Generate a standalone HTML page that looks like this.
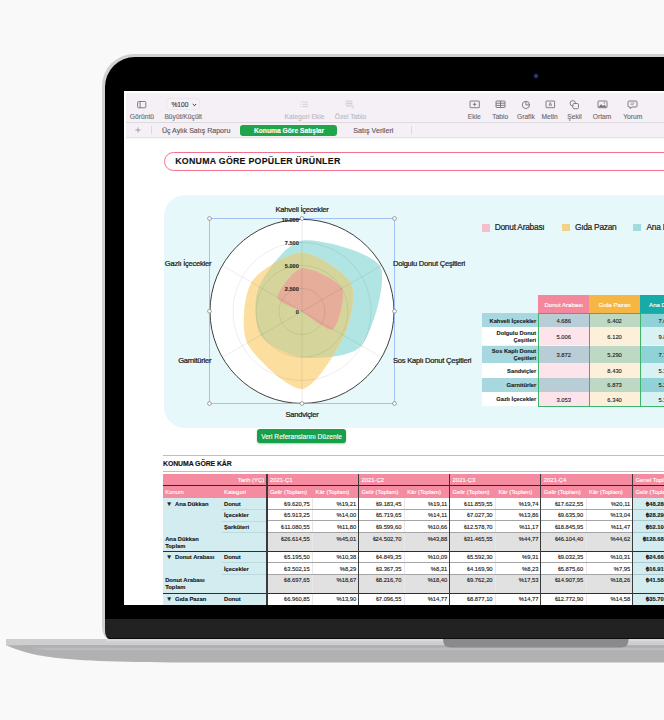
<!DOCTYPE html><html><head><meta charset="utf-8"><style>
*{margin:0;padding:0;box-sizing:border-box}
html,body{width:664px;height:720px;overflow:hidden;background:#f9f9f9;font-family:"Liberation Sans",sans-serif}
.a{position:absolute}
.t{position:absolute;white-space:nowrap;line-height:1;-webkit-text-stroke:0.12px currentColor}
.s2{-webkit-text-stroke:0.22px currentColor}
.lid{left:101.8px;top:54px;width:700px;height:585px;background:#d0d1d3;border-radius:32px 0 0 0;border-bottom-left-radius:7px 13px}
.bez{left:104.9px;top:56.5px;width:700px;height:562px;background:#000;border-radius:30px 0 0 0}
.chin{left:105px;top:618.6px;width:700px;height:20.4px;background:#222223;border-bottom-left-radius:4px 10px;border-bottom:1px solid #0c0c0c}
.cam{left:533.5px;top:73.9px;width:4px;height:4px;border-radius:50%;background:radial-gradient(circle,#3e4a96 0,#2e3878 50%,#151a40 100%);box-shadow:0 0 1.5px 1px #0a0c1c}
.screen{left:124.2px;top:91.2px;width:600px;height:514px;background:#fff;overflow:hidden}
.in{left:-124.2px;top:-91.2px;width:800px;height:720px}
</style></head><body>
<div class="a lid"></div><div class="a bez"></div><div class="a chin"></div><div class="a cam"></div>
<svg class="a" style="left:6px;top:639px" width="700" height="24" viewBox="0 0 700 24">
  <path d="M0 0 H700 V23.5 H180 C35 23.5 22.5 15 0 6.3 Z" fill="#b1b1b3"/>
  <rect x="0" y="0" width="700" height="6.3" fill="#cececf"/>
  <rect x="100" y="0" width="600" height="2.4" fill="#dadadb"/>
  <path d="M14 6.3 H700 V8.7 H24 Z" fill="#afafb1"/>
  <path d="M24 8.7 H700 V11 H40 Z" fill="#bcbcbe"/>
  <path d="M437 0 H622.6 V0.5 Q622.6 8.6 614.6 8.6 H445 Q437 8.6 437 0.5 Z" fill="#8a8a8c"/>
</svg>
<div class="a screen"><div class="a in">
<div class="a" style="left:126px;top:92.8px;width:560px;height:29.8px;background:#f4f0f6;border-bottom:0.8px solid #dedae0"></div>
<div class="a" style="left:126px;top:122.6px;width:560px;height:15.6px;background:#f4f0f6;border-bottom:0.8px solid #e6e2e8;box-shadow:0 0.6px 1.2px rgba(0,0,0,0.05)"></div>
<svg class="a" style="left:136px;top:100px" width="12" height="10" viewBox="0 0 12 10"><rect x="1.6" y="1.5" width="8.2" height="6.3" rx="0.9" stroke="#747177" fill="none" stroke-width="0.9"/><line x1="4.1" y1="1.5" x2="4.1" y2="7.8" stroke="#747177" fill="none" stroke-width="0.9"/><line x1="2.3" y1="3.2" x2="3.5" y2="3.2" stroke="#a9a5ac" stroke-width="0.6"/></svg>
<div class="t" style="left:-8.10px;width:300px;text-align:center;top:114px;font-size:6.7px;color:#6e6b70">Görüntü</div>
<div class="a" style="left:165.7px;top:98.2px;width:34.5px;height:12px;border-radius:3px;background:#f5f1f7;border:0.7px solid #ebe7ed"></div>
<div class="t" style="left:171.40px;top:102px;font-size:6.7px;color:#3a3a3a">%100</div>
<svg class="a" style="left:192px;top:103.3px" width="5" height="4" viewBox="0 0 5 4"><path d="M0.8 1 L2.5 2.7 L4.2 1" stroke="#333" fill="none" stroke-width="1"/></svg>
<div class="t" style="left:33.20px;width:300px;text-align:center;top:114px;font-size:6.7px;color:#6e6b70">Büyüt/Küçült</div>
<svg class="a" style="left:299px;top:100px" width="11" height="8" viewBox="0 0 11 8"><g stroke="#c3bfc6" fill="none" stroke-width="0.65"><line x1="3.3" y1="2" x2="9" y2="2"/><line x1="3.3" y1="4.3" x2="9" y2="4.3"/><line x1="3.3" y1="6.6" x2="9" y2="6.6"/><line x1="1.2" y1="2" x2="2" y2="2"/><line x1="1.2" y1="4.3" x2="2" y2="4.3"/><line x1="1.2" y1="6.6" x2="2" y2="6.6"/></g></svg>
<div class="t" style="left:154.50px;width:300px;text-align:center;top:114px;font-size:6.7px;color:#bdb9c0">Kategori Ekle</div>
<svg class="a" style="left:345px;top:99.5px" width="10" height="9" viewBox="0 0 10 9"><g stroke="#c3bfc6" fill="none" stroke-width="0.65"><rect x="1.2" y="1" width="5.6" height="5.2" rx="0.6"/><line x1="4" y1="1" x2="4" y2="6.2"/><line x1="1.2" y1="3.6" x2="6.8" y2="3.6"/><path d="M8.2 5.6 L8.2 7.6 L6.8 7.6"/></g></svg>
<div class="t" style="left:200.50px;width:300px;text-align:center;top:114px;font-size:6.7px;color:#bdb9c0">Özel Tablo</div>
<svg class="a" style="left:468.5px;top:100.3px" width="12" height="9" viewBox="0 0 12 9"><g stroke="#747177" fill="none" stroke-width="0.9"><rect x="1" y="1" width="9.3" height="6.7" rx="0.4"/><line x1="5.65" y1="2.6" x2="5.65" y2="6.1"/><line x1="3.9" y1="4.35" x2="7.4" y2="4.35"/></g></svg>
<div class="t" style="left:324.30px;width:300px;text-align:center;top:114px;font-size:6.7px;color:#6e6b70">Ekle</div>
<svg class="a" style="left:495px;top:100.3px" width="11" height="9" viewBox="0 0 11 9"><g stroke="#747177" fill="none" stroke-width="0.9"><rect x="1" y="1" width="9" height="6.5" rx="0.5"/><line x1="1" y1="3.2" x2="10" y2="3.2"/><line x1="1" y1="5.35" x2="10" y2="5.35"/><line x1="5.5" y1="1" x2="5.5" y2="7.5"/></g></svg>
<div class="t" style="left:350.30px;width:300px;text-align:center;top:114px;font-size:6.7px;color:#6e6b70">Tablo</div>
<svg class="a" style="left:521px;top:99.5px" width="10" height="10" viewBox="0 0 10 10"><g stroke="#747177" fill="none" stroke-width="0.9"><circle cx="4.9" cy="4.9" r="3.6"/><path d="M4.9 4.9 L4.9 1.3 M4.9 4.9 L8.5 4.9"/></g></svg>
<div class="t" style="left:375.90px;width:300px;text-align:center;top:114px;font-size:6.7px;color:#6e6b70">Grafik</div>
<svg class="a" style="left:544.5px;top:100.3px" width="11" height="9" viewBox="0 0 11 9"><g stroke="#747177" fill="none" stroke-width="0.9"><rect x="1" y="1" width="8.6" height="6.7" rx="0.4"/><path d="M3.9 6.1 L5.3 2.3 L6.7 6.1 M4.4 4.9 L6.2 4.9" stroke-width="0.7"/></g></svg>
<div class="t" style="left:399.60px;width:300px;text-align:center;top:114px;font-size:6.7px;color:#6e6b70">Metin</div>
<svg class="a" style="left:569px;top:99.5px" width="11" height="10" viewBox="0 0 11 10"><g stroke="#747177" fill="none" stroke-width="0.9"><circle cx="3.8" cy="3.3" r="2.7"/><rect x="3.9" y="3.5" width="5.6" height="5.2" rx="1.2" fill="#f4f0f6"/></g></svg>
<div class="t" style="left:424.60px;width:300px;text-align:center;top:114px;font-size:6.7px;color:#6e6b70">Şekil</div>
<svg class="a" style="left:597px;top:100.3px" width="11" height="9" viewBox="0 0 11 9"><rect x="1" y="1" width="9" height="6.7" rx="0.6" stroke="#747177" fill="none" stroke-width="0.9"/><path d="M1.4 7.3 L4 4.2 L6 6 L7.4 4.8 L9.6 7.3 Z" fill="#76727a"/><circle cx="7.4" cy="2.9" r="0.7" fill="#76727a"/></svg>
<div class="t" style="left:452.00px;width:300px;text-align:center;top:114px;font-size:6.7px;color:#6e6b70">Ortam</div>
<svg class="a" style="left:627px;top:100px" width="11" height="10" viewBox="0 0 11 10"><g stroke="#747177" fill="none" stroke-width="0.9"><path d="M2 1 H9 Q10 1 10 2 V6 Q10 7 9 7 H5 L3.2 8.6 V7 H2 Q1 7 1 6 V2 Q1 1 2 1 Z"/><line x1="3.5" y1="3" x2="7.5" y2="3" stroke-width="0.6"/><line x1="3.5" y1="4.7" x2="6.5" y2="4.7" stroke-width="0.6"/></g></svg>
<div class="t" style="left:482.80px;width:300px;text-align:center;top:114px;font-size:6.7px;color:#6e6b70">Yorum</div>
<svg class="a" style="left:135px;top:127px" width="6" height="6" viewBox="0 0 6 6"><path d="M3 0.4 V5.6 M0.4 3 H5.6" stroke="#8d8990" stroke-width="0.75"/></svg>
<div class="a" style="left:151.2px;top:126.3px;width:0.8px;height:7.7px;background:#dcd8de"></div>
<div class="t" style="left:161.90px;top:127px;font-size:7.05px;color:#5a565d">Üç Aylık Satış Raporu</div>
<div class="a" style="left:240.3px;top:125.1px;width:96.8px;height:11.2px;border-radius:3px;background:#1fa64b"></div>
<div class="t" style="left:253.90px;top:128px;font-size:6.7px;color:#fff;font-weight:bold">Konuma Göre Satışlar</div>
<div class="t" style="left:353.30px;top:128px;font-size:7.15px;color:#5a565d">Satış Verileri</div>
<div class="a" style="left:410.8px;top:126.3px;width:0.8px;height:7.7px;background:#dcd8de"></div>
<div class="a" style="left:164.1px;top:151.9px;width:560px;height:19.3px;border-radius:9.6px;border:1.7px solid #f2738d;background:#fff"></div>
<div class="t" style="left:175.20px;top:157px;font-size:8.8px;letter-spacing:0.27px;font-weight:bold;color:#111">KONUMA GÖRE POPÜLER ÜRÜNLER</div>
<div class="a" style="left:164.2px;top:195px;width:560px;height:233.3px;border-radius:21px;background:#e6f8f9"></div>
<svg class="a" style="left:0;top:0" width="700" height="720" viewBox="0 0 700 720"><defs><clipPath id="ct"><path d="M302.00 240.56 C318.15 237.86 372.17 252.31 380.08 266.32 C388.00 280.33 371.77 333.53 361.36 345.67 C350.95 357.81 315.44 358.78 302.00 357.40 C288.56 356.02 266.31 344.77 260.57 335.32 C254.83 325.87 253.45 299.19 258.98 286.56 C264.50 273.93 285.85 243.26 302.00 240.56Z"/></clipPath></defs><circle cx="302.0" cy="311.4" r="92.0" fill="#fff"/><path d="M302.00 240.56 C318.15 237.86 372.17 252.31 380.08 266.32 C388.00 280.33 371.77 333.53 361.36 345.67 C350.95 357.81 315.44 358.78 302.00 357.40 C288.56 356.02 266.31 344.77 260.57 335.32 C254.83 325.87 253.45 299.19 258.98 286.56 C264.50 273.93 285.85 243.26 302.00 240.56Z" fill="#b1e5e3"/><path d="M302.00 252.50 C315.24 252.64 345.14 272.15 350.76 283.25 C356.38 294.35 350.65 321.64 344.15 335.73 C337.65 349.83 314.92 387.99 302.00 388.96 C289.08 389.93 253.97 357.25 247.24 343.02 C240.50 328.79 244.19 294.30 251.49 282.24 C258.79 270.17 288.76 252.37 302.00 252.50Z" fill="#fcde9f"/><path d="M302.00 252.50 C315.24 252.64 345.14 272.15 350.76 283.25 C356.38 294.35 350.65 321.64 344.15 335.73 C337.65 349.83 314.92 387.99 302.00 388.96 C289.08 389.93 253.97 357.25 247.24 343.02 C240.50 328.79 244.19 294.30 251.49 282.24 C258.79 270.17 288.76 252.37 302.00 252.50Z" fill="#d5d59b" clip-path="url(#ct)"/><path d="M302.00 268.29 C310.56 267.09 337.77 280.25 341.88 288.37 C346.00 296.50 338.17 326.14 332.85 329.21 C327.53 332.28 306.11 313.77 302.00 311.40 C297.89 309.03 305.24 313.27 302.00 311.40 C298.76 309.53 277.68 303.10 277.68 297.36 C277.68 291.61 293.44 269.49 302.00 268.29Z" fill="#e5ad9a"/><circle cx="302.0" cy="311.4" r="23" fill="none" stroke="rgba(0,0,0,0.13)" stroke-width="0.6"/><circle cx="302.0" cy="311.4" r="46" fill="none" stroke="rgba(0,0,0,0.13)" stroke-width="0.6"/><circle cx="302.0" cy="311.4" r="69" fill="none" stroke="rgba(0,0,0,0.13)" stroke-width="0.6"/><line x1="302.0" y1="311.4" x2="302.00" y2="219.40" stroke="rgba(0,0,0,0.13)" stroke-width="0.6"/><line x1="302.0" y1="311.4" x2="381.67" y2="265.40" stroke="rgba(0,0,0,0.13)" stroke-width="0.6"/><line x1="302.0" y1="311.4" x2="381.67" y2="357.40" stroke="rgba(0,0,0,0.13)" stroke-width="0.6"/><line x1="302.0" y1="311.4" x2="302.00" y2="403.40" stroke="rgba(0,0,0,0.13)" stroke-width="0.6"/><line x1="302.0" y1="311.4" x2="222.33" y2="357.40" stroke="rgba(0,0,0,0.13)" stroke-width="0.6"/><line x1="302.0" y1="311.4" x2="222.33" y2="265.40" stroke="rgba(0,0,0,0.13)" stroke-width="0.6"/><circle cx="302.0" cy="311.4" r="92.0" fill="none" stroke="#2a2a2a" stroke-width="0.9"/><rect x="209.5" y="218.5" width="185.0" height="185.0" fill="none" stroke="#8eaef5" stroke-width="0.75"/><circle cx="209.5" cy="218.5" r="1.9" fill="#fff" stroke="#7a7a7a" stroke-width="0.7"/><circle cx="209.5" cy="311.2" r="1.9" fill="#fff" stroke="#7a7a7a" stroke-width="0.7"/><circle cx="209.5" cy="403.5" r="1.9" fill="#fff" stroke="#7a7a7a" stroke-width="0.7"/><circle cx="302.0" cy="218.5" r="1.9" fill="#fff" stroke="#7a7a7a" stroke-width="0.7"/><circle cx="302.0" cy="403.5" r="1.9" fill="#fff" stroke="#7a7a7a" stroke-width="0.7"/><circle cx="394.5" cy="218.5" r="1.9" fill="#fff" stroke="#7a7a7a" stroke-width="0.7"/><circle cx="394.5" cy="311.2" r="1.9" fill="#fff" stroke="#7a7a7a" stroke-width="0.7"/><circle cx="394.5" cy="403.5" r="1.9" fill="#fff" stroke="#7a7a7a" stroke-width="0.7"/></svg>
<div class="t" style="left:-1.20px;width:300px;text-align:right;top:218px;font-size:5.6px;font-weight:bold;color:#2a2a2a">10.000</div>
<div class="t" style="left:-1.20px;width:300px;text-align:right;top:241px;font-size:5.6px;font-weight:bold;color:#2a2a2a">7.500</div>
<div class="t" style="left:-1.20px;width:300px;text-align:right;top:264px;font-size:5.6px;font-weight:bold;color:#2a2a2a">5.000</div>
<div class="t" style="left:-1.20px;width:300px;text-align:right;top:287px;font-size:5.6px;font-weight:bold;color:#2a2a2a">2.500</div>
<div class="t" style="left:-1.20px;width:300px;text-align:right;top:310px;font-size:5.6px;font-weight:bold;color:#2a2a2a">0</div>
<div class="t" style="left:152.00px;width:300px;text-align:center;top:206px;font-size:7.6px;letter-spacing:-0.25px;color:#1a1a1a;-webkit-text-stroke:0.22px #1a1a1a">Kahveli İçecekler</div>
<div class="t" style="left:393.00px;top:260px;font-size:7.6px;letter-spacing:-0.25px;color:#1a1a1a;-webkit-text-stroke:0.22px #1a1a1a">Dolgulu Donut Çeşitleri</div>
<div class="t" style="left:393.00px;top:357px;font-size:7.6px;letter-spacing:-0.25px;color:#1a1a1a;-webkit-text-stroke:0.22px #1a1a1a">Sos Kaplı Donut Çeşitleri</div>
<div class="t" style="left:152.00px;width:300px;text-align:center;top:411px;font-size:7.6px;letter-spacing:-0.25px;color:#1a1a1a;-webkit-text-stroke:0.22px #1a1a1a">Sandviçler</div>
<div class="t" style="left:-88.70px;width:300px;text-align:right;top:357px;font-size:7.6px;letter-spacing:-0.25px;color:#1a1a1a;-webkit-text-stroke:0.22px #1a1a1a">Garnitürler</div>
<div class="t" style="left:-88.70px;width:300px;text-align:right;top:260px;font-size:7.6px;letter-spacing:-0.25px;color:#1a1a1a;-webkit-text-stroke:0.22px #1a1a1a">Gazlı İçecekler</div>
<div class="a" style="left:482px;top:223.9px;width:7.8px;height:7.7px;background:#f3bfcb"></div>
<div class="t" style="left:494.70px;top:223px;font-size:8.4px;letter-spacing:-0.26px;color:#222;-webkit-text-stroke:0.2px #222">Donut Arabası</div>
<div class="a" style="left:562.3px;top:223.9px;width:7.5px;height:7.5px;background:#f0d28b"></div>
<div class="t" style="left:574.90px;top:223px;font-size:8.4px;letter-spacing:-0.26px;color:#222;-webkit-text-stroke:0.2px #222">Gıda Pazan</div>
<div class="a" style="left:633.1px;top:223.9px;width:7.6px;height:7.5px;background:#9fdcdc"></div>
<div class="t" style="left:646.50px;top:223px;font-size:8.4px;letter-spacing:-0.26px;color:#222;-webkit-text-stroke:0.2px #222">Ana Dükkan</div>
<div class="a" style="left:538.3px;top:294.8px;width:50.8px;height:18px;background:#f5879c"></div>
<div class="a" style="left:589.1px;top:294.8px;width:51.1px;height:18px;background:#f6b645"></div>
<div class="a" style="left:640.2px;top:294.8px;width:51px;height:18px;background:#17aaa6"></div>
<div class="t" style="left:413.70px;width:300px;text-align:center;top:302px;font-size:6.1px;color:#fff">Donut Arabası</div>
<div class="t" style="left:464.60px;width:300px;text-align:center;top:302px;font-size:6.1px;color:#fff">Gıda Pazan</div>
<div class="t" style="left:515.70px;width:300px;text-align:center;top:302px;font-size:6.1px;color:#fff">Ana Dükkan</div>
<div class="a" style="left:481.6px;top:313.3px;width:56.7px;height:13.80px;background:#a7d8df"></div>
<div class="a" style="left:538.3px;top:313.3px;width:50.8px;height:13.80px;background:#b8cdd6"></div>
<div class="a" style="left:589.1px;top:313.3px;width:51.1px;height:13.80px;background:#bdd8c3"></div>
<div class="a" style="left:640.2px;top:313.3px;width:51px;height:13.80px;background:#8fd3d6"></div>
<div class="t" style="left:236.20px;width:300px;text-align:right;top:319px;font-size:5.75px;font-weight:bold;color:#1a1a1a">Kahveli İçecekler</div>
<div class="t" style="left:413.70px;width:300px;text-align:center;top:319px;font-size:5.8px;color:#1e1e1e">4.686</div>
<div class="t" style="left:464.60px;width:300px;text-align:center;top:319px;font-size:5.8px;color:#1e1e1e">6.402</div>
<div class="t" style="left:515.70px;width:300px;text-align:center;top:319px;font-size:5.8px;color:#1e1e1e">7.695</div>
<div class="a" style="left:481.6px;top:327.1px;width:56.7px;height:18.40px;background:#fff"></div>
<div class="a" style="left:538.3px;top:327.1px;width:50.8px;height:18.40px;background:#fde4eb"></div>
<div class="a" style="left:589.1px;top:327.1px;width:51.1px;height:18.40px;background:#fdf0da"></div>
<div class="a" style="left:640.2px;top:327.1px;width:51px;height:18.40px;background:#d8f1f2"></div>
<div class="t" style="left:236.20px;width:300px;text-align:right;top:330px;font-size:5.75px;line-height:6.8px;font-weight:bold;color:#1a1a1a">Dolgulu Donut<br>Çeşitleri</div>
<div class="t" style="left:413.70px;width:300px;text-align:center;top:335px;font-size:5.8px;color:#1e1e1e">5.006</div>
<div class="t" style="left:464.60px;width:300px;text-align:center;top:335px;font-size:5.8px;color:#1e1e1e">6.120</div>
<div class="t" style="left:515.70px;width:300px;text-align:center;top:335px;font-size:5.8px;color:#1e1e1e">9.812</div>
<div class="a" style="left:481.6px;top:345.5px;width:56.7px;height:17.90px;background:#a7d8df"></div>
<div class="a" style="left:538.3px;top:345.5px;width:50.8px;height:17.90px;background:#b8cdd6"></div>
<div class="a" style="left:589.1px;top:345.5px;width:51.1px;height:17.90px;background:#bdd8c3"></div>
<div class="a" style="left:640.2px;top:345.5px;width:51px;height:17.90px;background:#8fd3d6"></div>
<div class="t" style="left:236.20px;width:300px;text-align:right;top:348px;font-size:5.75px;line-height:6.8px;font-weight:bold;color:#1a1a1a">Sos Kaplı Donut<br>Çeşitleri</div>
<div class="t" style="left:413.70px;width:300px;text-align:center;top:353px;font-size:5.8px;color:#1e1e1e">3.872</div>
<div class="t" style="left:464.60px;width:300px;text-align:center;top:353px;font-size:5.8px;color:#1e1e1e">5.290</div>
<div class="t" style="left:515.70px;width:300px;text-align:center;top:353px;font-size:5.8px;color:#1e1e1e">7.733</div>
<div class="a" style="left:481.6px;top:363.4px;width:56.7px;height:14.50px;background:#fff"></div>
<div class="a" style="left:538.3px;top:363.4px;width:50.8px;height:14.50px;background:#fde4eb"></div>
<div class="a" style="left:589.1px;top:363.4px;width:51.1px;height:14.50px;background:#fdf0da"></div>
<div class="a" style="left:640.2px;top:363.4px;width:51px;height:14.50px;background:#d8f1f2"></div>
<div class="t" style="left:236.20px;width:300px;text-align:right;top:369px;font-size:5.75px;font-weight:bold;color:#1a1a1a">Sandviçler</div>
<div class="t" style="left:464.60px;width:300px;text-align:center;top:369px;font-size:5.8px;color:#1e1e1e">8.430</div>
<div class="t" style="left:515.70px;width:300px;text-align:center;top:369px;font-size:5.8px;color:#1e1e1e">5.318</div>
<div class="a" style="left:481.6px;top:377.9px;width:56.7px;height:14.10px;background:#a7d8df"></div>
<div class="a" style="left:538.3px;top:377.9px;width:50.8px;height:14.10px;background:#b8cdd6"></div>
<div class="a" style="left:589.1px;top:377.9px;width:51.1px;height:14.10px;background:#bdd8c3"></div>
<div class="a" style="left:640.2px;top:377.9px;width:51px;height:14.10px;background:#8fd3d6"></div>
<div class="t" style="left:236.20px;width:300px;text-align:right;top:383px;font-size:5.75px;font-weight:bold;color:#1a1a1a">Garnitürler</div>
<div class="t" style="left:464.60px;width:300px;text-align:center;top:383px;font-size:5.8px;color:#1e1e1e">6.873</div>
<div class="t" style="left:515.70px;width:300px;text-align:center;top:383px;font-size:5.8px;color:#1e1e1e">5.210</div>
<div class="a" style="left:481.6px;top:392.0px;width:56.7px;height:14.00px;background:#fff"></div>
<div class="a" style="left:538.3px;top:392.0px;width:50.8px;height:14.00px;background:#fde4eb"></div>
<div class="a" style="left:589.1px;top:392.0px;width:51.1px;height:14.00px;background:#fdf0da"></div>
<div class="a" style="left:640.2px;top:392.0px;width:51px;height:14.00px;background:#d8f1f2"></div>
<div class="t" style="left:236.20px;width:300px;text-align:right;top:397px;font-size:5.75px;font-weight:bold;color:#1a1a1a">Gazlı İçecekler</div>
<div class="t" style="left:413.70px;width:300px;text-align:center;top:398px;font-size:5.8px;color:#1e1e1e">3.053</div>
<div class="t" style="left:464.60px;width:300px;text-align:center;top:398px;font-size:5.8px;color:#1e1e1e">6.340</div>
<div class="t" style="left:515.70px;width:300px;text-align:center;top:398px;font-size:5.8px;color:#1e1e1e">5.356</div>
<div class="a" style="left:537.75px;top:313px;width:1.1px;height:93.6px;background:#3db36b"></div>
<div class="a" style="left:588.5500000000001px;top:313px;width:1.1px;height:93.6px;background:#3db36b"></div>
<div class="a" style="left:639.6500000000001px;top:313px;width:1.1px;height:93.6px;background:#3db36b"></div>
<div class="a" style="left:538px;top:312.8px;width:200px;height:1px;background:#3db36b"></div>
<div class="a" style="left:538px;top:405.6px;width:200px;height:1.1px;background:#3db36b"></div>
<div class="a" style="left:257px;top:428.7px;width:89px;height:14.5px;border-radius:3px;background:#17a04a;box-shadow:0 1px 2px rgba(0,0,0,0.25)"></div>
<div class="t" style="left:151.50px;width:300px;text-align:center;top:434px;font-size:6.6px;color:#fff">Veri Referanslarını Düzenle</div>
<div class="a" style="left:163px;top:454.7px;width:560px;height:1.2px;background:#f7a3b3"></div>
<div class="t" style="left:163.00px;top:461px;font-size:6.9px;letter-spacing:-0.08px;font-weight:bold;color:#111">KONUMA GÖRE KÂR</div>
<div class="a" style="left:163px;top:471.2px;width:560px;height:1.2px;background:#f7a3b3"></div>
<div class="a" style="left:163.0px;top:473.8px;width:600px;height:24.00px;background:#f48ba0"></div>
<div class="a" style="left:163.0px;top:485.0px;width:600px;height:1.2px;background:#2b2b2b"></div>
<div class="a" style="left:163.0px;top:497.9px;width:104.0px;height:108.10000000000002px;background:#d3ecf0"></div>
<div class="a" style="left:267.0px;top:497.9px;width:365.6px;height:108.10000000000002px;background:#fff"></div>
<div class="a" style="left:632.6px;top:497.9px;width:100px;height:108.10000000000002px;background:#d3ecf0"></div>
<div class="a" style="left:267.0px;top:532.5px;width:365.6px;height:18.80px;background:#e1e1e1"></div>
<div class="a" style="left:267.0px;top:574.3px;width:365.6px;height:19.00px;background:#e1e1e1"></div>
<div class="a" style="left:312.3px;top:497.9px;width:0.8px;height:108.10000000000002px;background:#e8e8e8"></div>
<div class="a" style="left:403.90000000000003px;top:497.9px;width:0.8px;height:108.10000000000002px;background:#e8e8e8"></div>
<div class="a" style="left:495.1px;top:497.9px;width:0.8px;height:108.10000000000002px;background:#e8e8e8"></div>
<div class="a" style="left:585.8000000000001px;top:497.9px;width:0.8px;height:108.10000000000002px;background:#e8e8e8"></div>
<div class="a" style="left:267.0px;top:509.05px;width:365.6px;height:0.9px;background:#a5a5a5"></div>
<div class="a" style="left:632.6px;top:509.05px;width:100px;height:0.9px;background:#a9c9ce"></div>
<div class="a" style="left:222.0px;top:509.10px;width:45.0px;height:0.8px;background:#bcdbe0"></div>
<div class="a" style="left:267.0px;top:520.45px;width:365.6px;height:0.9px;background:#a5a5a5"></div>
<div class="a" style="left:632.6px;top:520.45px;width:100px;height:0.9px;background:#a9c9ce"></div>
<div class="a" style="left:222.0px;top:520.50px;width:45.0px;height:0.8px;background:#bcdbe0"></div>
<div class="a" style="left:267.0px;top:532.05px;width:365.6px;height:0.9px;background:#a5a5a5"></div>
<div class="a" style="left:632.6px;top:532.05px;width:100px;height:0.9px;background:#a9c9ce"></div>
<div class="a" style="left:222.0px;top:532.10px;width:45.0px;height:0.8px;background:#bcdbe0"></div>
<div class="a" style="left:163.0px;top:550.70px;width:600px;height:1.2px;background:#2e2e2e"></div>
<div class="a" style="left:267.0px;top:562.35px;width:365.6px;height:0.9px;background:#a5a5a5"></div>
<div class="a" style="left:632.6px;top:562.35px;width:100px;height:0.9px;background:#a9c9ce"></div>
<div class="a" style="left:222.0px;top:562.40px;width:45.0px;height:0.8px;background:#bcdbe0"></div>
<div class="a" style="left:267.0px;top:573.85px;width:365.6px;height:0.9px;background:#a5a5a5"></div>
<div class="a" style="left:632.6px;top:573.85px;width:100px;height:0.9px;background:#a9c9ce"></div>
<div class="a" style="left:222.0px;top:573.90px;width:45.0px;height:0.8px;background:#bcdbe0"></div>
<div class="a" style="left:163.0px;top:592.70px;width:600px;height:1.2px;background:#2e2e2e"></div>
<div class="a" style="left:266.20px;top:473.8px;width:1.6px;height:132.20px;background:#3a3a3a"></div>
<div class="a" style="left:358.05px;top:473.8px;width:1.1px;height:132.20px;background:#3a3a3a"></div>
<div class="a" style="left:449.15px;top:473.8px;width:1.1px;height:132.20px;background:#3a3a3a"></div>
<div class="a" style="left:540.35px;top:473.8px;width:1.1px;height:132.20px;background:#3a3a3a"></div>
<div class="a" style="left:632.05px;top:473.8px;width:1.1px;height:132.20px;background:#3a3a3a"></div>
<div class="t" style="left:-35.80px;width:300px;text-align:right;top:478px;font-size:5.9px;color:#fff">Tarih (YÇ)</div>
<div class="t" style="left:269.90px;top:478px;font-size:5.9px;color:#fff">2021-Ç1</div>
<div class="t" style="left:361.50px;top:478px;font-size:5.9px;color:#fff">2021-Ç2</div>
<div class="t" style="left:452.60px;top:478px;font-size:5.9px;color:#fff">2021-Ç3</div>
<div class="t" style="left:543.80px;top:478px;font-size:5.9px;color:#fff">2021-Ç4</div>
<div class="t" style="left:635.50px;top:478px;font-size:5.9px;color:#fff">Genel Toplam</div>
<div class="t" style="left:165.30px;top:490px;font-size:5.9px;color:#fff">Konum</div>
<div class="t" style="left:224.00px;top:490px;font-size:5.9px;color:#fff">Kategori</div>
<div class="t" style="left:269.90px;top:490px;font-size:5.9px;color:#fff">Gelir (Toplam)</div>
<div class="t" style="left:315.60px;top:490px;font-size:5.9px;color:#fff">Kâr (Toplam)</div>
<div class="t" style="left:361.50px;top:490px;font-size:5.9px;color:#fff">Gelir (Toplam)</div>
<div class="t" style="left:407.20px;top:490px;font-size:5.9px;color:#fff">Kâr (Toplam)</div>
<div class="t" style="left:452.60px;top:490px;font-size:5.9px;color:#fff">Gelir (Toplam)</div>
<div class="t" style="left:498.40px;top:490px;font-size:5.9px;color:#fff">Kâr (Toplam)</div>
<div class="t" style="left:543.80px;top:490px;font-size:5.9px;color:#fff">Gelir (Toplam)</div>
<div class="t" style="left:589.10px;top:490px;font-size:5.9px;color:#fff">Kâr (Toplam)</div>
<div class="t" style="left:635.50px;top:490px;font-size:5.9px;color:#fff">Gelir (Toplam)</div>
<div class="t" style="left:166.00px;top:501px;font-size:6.3px;color:#1e1e1e">▼</div>
<div class="t" style="left:175.00px;top:502px;font-size:5.8px;font-weight:bold;color:#141414">Ana Dükkan</div>
<div class="t" style="left:224.00px;top:502px;font-size:5.8px;font-weight:bold;color:#141414">Donut</div>
<div class="t" style="left:224.00px;top:513px;font-size:5.8px;font-weight:bold;color:#141414">İçecekler</div>
<div class="t" style="left:224.00px;top:525px;font-size:5.8px;font-weight:bold;color:#141414">Şarküteri</div>
<div class="t" style="left:165.20px;top:536px;font-size:5.8px;line-height:6.6px;font-weight:bold;color:#141414">Ana Dükkan<br>Toplam</div>
<div class="t" style="left:166.00px;top:554px;font-size:6.3px;color:#1e1e1e">▼</div>
<div class="t" style="left:175.00px;top:555px;font-size:5.8px;font-weight:bold;color:#141414">Donut Arabası</div>
<div class="t" style="left:224.00px;top:555px;font-size:5.8px;font-weight:bold;color:#141414">Donut</div>
<div class="t" style="left:224.00px;top:567px;font-size:5.8px;font-weight:bold;color:#141414">İçecekler</div>
<div class="t" style="left:165.20px;top:577px;font-size:5.8px;line-height:6.6px;font-weight:bold;color:#141414">Donut Arabası<br>Toplam</div>
<div class="t" style="left:166.00px;top:596px;font-size:6.3px;color:#1e1e1e">▼</div>
<div class="t" style="left:175.00px;top:597px;font-size:5.8px;font-weight:bold;color:#141414">Gıda Pazan</div>
<div class="t" style="left:224.00px;top:597px;font-size:5.8px;font-weight:bold;color:#141414">Donut</div>
<div class="t" style="left:9.80px;width:300px;text-align:right;top:502px;font-size:5.8px;color:#1a1a1a">₺9.620,75</div>
<div class="t" style="left:56.20px;width:300px;text-align:right;top:502px;font-size:5.8px;color:#1a1a1a">%19,21</div>
<div class="t" style="left:9.80px;width:300px;text-align:right;top:513px;font-size:5.8px;color:#1a1a1a">₺5.913,25</div>
<div class="t" style="left:56.20px;width:300px;text-align:right;top:513px;font-size:5.8px;color:#1a1a1a">%14,00</div>
<div class="t" style="left:9.80px;width:300px;text-align:right;top:525px;font-size:5.8px;color:#1a1a1a">₺11.080,55</div>
<div class="t" style="left:56.20px;width:300px;text-align:right;top:525px;font-size:5.8px;color:#1a1a1a">%11,80</div>
<div class="t" style="left:9.80px;width:300px;text-align:right;top:537px;font-size:5.8px;color:#1a1a1a">₺26.614,55</div>
<div class="t" style="left:56.20px;width:300px;text-align:right;top:537px;font-size:5.8px;color:#1a1a1a">%45,01</div>
<div class="t" style="left:9.80px;width:300px;text-align:right;top:555px;font-size:5.8px;color:#1a1a1a">₺5.195,50</div>
<div class="t" style="left:56.20px;width:300px;text-align:right;top:555px;font-size:5.8px;color:#1a1a1a">%10,38</div>
<div class="t" style="left:9.80px;width:300px;text-align:right;top:567px;font-size:5.8px;color:#1a1a1a">₺3.502,15</div>
<div class="t" style="left:56.20px;width:300px;text-align:right;top:567px;font-size:5.8px;color:#1a1a1a">%8,29</div>
<div class="t" style="left:9.80px;width:300px;text-align:right;top:578px;font-size:5.8px;color:#1a1a1a">₺8.697,65</div>
<div class="t" style="left:56.20px;width:300px;text-align:right;top:578px;font-size:5.8px;color:#1a1a1a">%18,67</div>
<div class="t" style="left:9.80px;width:300px;text-align:right;top:597px;font-size:5.8px;color:#1a1a1a">₺6.960,85</div>
<div class="t" style="left:56.20px;width:300px;text-align:right;top:597px;font-size:5.8px;color:#1a1a1a">%13,90</div>
<div class="t" style="left:101.40px;width:300px;text-align:right;top:502px;font-size:5.8px;color:#1a1a1a">₺9.183,45</div>
<div class="t" style="left:147.30px;width:300px;text-align:right;top:502px;font-size:5.8px;color:#1a1a1a">%19,11</div>
<div class="t" style="left:101.40px;width:300px;text-align:right;top:513px;font-size:5.8px;color:#1a1a1a">₺5.719,65</div>
<div class="t" style="left:147.30px;width:300px;text-align:right;top:513px;font-size:5.8px;color:#1a1a1a">%14,11</div>
<div class="t" style="left:101.40px;width:300px;text-align:right;top:525px;font-size:5.8px;color:#1a1a1a">₺9.599,60</div>
<div class="t" style="left:147.30px;width:300px;text-align:right;top:525px;font-size:5.8px;color:#1a1a1a">%10,66</div>
<div class="t" style="left:101.40px;width:300px;text-align:right;top:537px;font-size:5.8px;color:#1a1a1a">₺24.502,70</div>
<div class="t" style="left:147.30px;width:300px;text-align:right;top:537px;font-size:5.8px;color:#1a1a1a">%43,88</div>
<div class="t" style="left:101.40px;width:300px;text-align:right;top:555px;font-size:5.8px;color:#1a1a1a">₺4.849,35</div>
<div class="t" style="left:147.30px;width:300px;text-align:right;top:555px;font-size:5.8px;color:#1a1a1a">%10,09</div>
<div class="t" style="left:101.40px;width:300px;text-align:right;top:567px;font-size:5.8px;color:#1a1a1a">₺3.367,35</div>
<div class="t" style="left:147.30px;width:300px;text-align:right;top:567px;font-size:5.8px;color:#1a1a1a">%8,31</div>
<div class="t" style="left:101.40px;width:300px;text-align:right;top:578px;font-size:5.8px;color:#1a1a1a">₺8.216,70</div>
<div class="t" style="left:147.30px;width:300px;text-align:right;top:578px;font-size:5.8px;color:#1a1a1a">%18,40</div>
<div class="t" style="left:101.40px;width:300px;text-align:right;top:597px;font-size:5.8px;color:#1a1a1a">₺7.096,55</div>
<div class="t" style="left:147.30px;width:300px;text-align:right;top:597px;font-size:5.8px;color:#1a1a1a">%14,77</div>
<div class="t" style="left:192.60px;width:300px;text-align:right;top:502px;font-size:5.8px;color:#1a1a1a">₺11.859,55</div>
<div class="t" style="left:238.50px;width:300px;text-align:right;top:502px;font-size:5.8px;color:#1a1a1a">%19,74</div>
<div class="t" style="left:192.60px;width:300px;text-align:right;top:513px;font-size:5.8px;color:#1a1a1a">₺7.027,30</div>
<div class="t" style="left:238.50px;width:300px;text-align:right;top:513px;font-size:5.8px;color:#1a1a1a">%13,86</div>
<div class="t" style="left:192.60px;width:300px;text-align:right;top:525px;font-size:5.8px;color:#1a1a1a">₺12.578,70</div>
<div class="t" style="left:238.50px;width:300px;text-align:right;top:525px;font-size:5.8px;color:#1a1a1a">%11,17</div>
<div class="t" style="left:192.60px;width:300px;text-align:right;top:537px;font-size:5.8px;color:#1a1a1a">₺31.465,55</div>
<div class="t" style="left:238.50px;width:300px;text-align:right;top:537px;font-size:5.8px;color:#1a1a1a">%44,77</div>
<div class="t" style="left:192.60px;width:300px;text-align:right;top:555px;font-size:5.8px;color:#1a1a1a">₺5.592,30</div>
<div class="t" style="left:238.50px;width:300px;text-align:right;top:555px;font-size:5.8px;color:#1a1a1a">%9,31</div>
<div class="t" style="left:192.60px;width:300px;text-align:right;top:567px;font-size:5.8px;color:#1a1a1a">₺4.169,90</div>
<div class="t" style="left:238.50px;width:300px;text-align:right;top:567px;font-size:5.8px;color:#1a1a1a">%8,23</div>
<div class="t" style="left:192.60px;width:300px;text-align:right;top:578px;font-size:5.8px;color:#1a1a1a">₺9.762,20</div>
<div class="t" style="left:238.50px;width:300px;text-align:right;top:578px;font-size:5.8px;color:#1a1a1a">%17,53</div>
<div class="t" style="left:192.60px;width:300px;text-align:right;top:597px;font-size:5.8px;color:#1a1a1a">₺8.877,10</div>
<div class="t" style="left:238.50px;width:300px;text-align:right;top:597px;font-size:5.8px;color:#1a1a1a">%14,77</div>
<div class="t" style="left:283.30px;width:300px;text-align:right;top:502px;font-size:5.8px;color:#1a1a1a">₺17.622,55</div>
<div class="t" style="left:330.20px;width:300px;text-align:right;top:502px;font-size:5.8px;color:#1a1a1a">%20,11</div>
<div class="t" style="left:283.30px;width:300px;text-align:right;top:513px;font-size:5.8px;color:#1a1a1a">₺9.635,90</div>
<div class="t" style="left:330.20px;width:300px;text-align:right;top:513px;font-size:5.8px;color:#1a1a1a">%13,04</div>
<div class="t" style="left:283.30px;width:300px;text-align:right;top:525px;font-size:5.8px;color:#1a1a1a">₺18.845,95</div>
<div class="t" style="left:330.20px;width:300px;text-align:right;top:525px;font-size:5.8px;color:#1a1a1a">%11,47</div>
<div class="t" style="left:283.30px;width:300px;text-align:right;top:537px;font-size:5.8px;color:#1a1a1a">₺46.104,40</div>
<div class="t" style="left:330.20px;width:300px;text-align:right;top:537px;font-size:5.8px;color:#1a1a1a">%44,62</div>
<div class="t" style="left:283.30px;width:300px;text-align:right;top:555px;font-size:5.8px;color:#1a1a1a">₺9.032,35</div>
<div class="t" style="left:330.20px;width:300px;text-align:right;top:555px;font-size:5.8px;color:#1a1a1a">%10,31</div>
<div class="t" style="left:283.30px;width:300px;text-align:right;top:567px;font-size:5.8px;color:#1a1a1a">₺5.875,60</div>
<div class="t" style="left:330.20px;width:300px;text-align:right;top:567px;font-size:5.8px;color:#1a1a1a">%7,95</div>
<div class="t" style="left:283.30px;width:300px;text-align:right;top:578px;font-size:5.8px;color:#1a1a1a">₺14.907,95</div>
<div class="t" style="left:330.20px;width:300px;text-align:right;top:578px;font-size:5.8px;color:#1a1a1a">%18,26</div>
<div class="t" style="left:283.30px;width:300px;text-align:right;top:597px;font-size:5.8px;color:#1a1a1a">₺12.772,90</div>
<div class="t" style="left:330.20px;width:300px;text-align:right;top:597px;font-size:5.8px;color:#1a1a1a">%14,58</div>
<div class="t" style="left:375.10px;width:300px;text-align:right;top:502px;font-size:5.8px;color:#1a1a1a;font-weight:bold">₺48.286,30</div>
<div class="t" style="left:375.10px;width:300px;text-align:right;top:513px;font-size:5.8px;color:#1a1a1a;font-weight:bold">₺28.296,10</div>
<div class="t" style="left:375.10px;width:300px;text-align:right;top:525px;font-size:5.8px;color:#1a1a1a;font-weight:bold">₺52.104,80</div>
<div class="t" style="left:375.10px;width:300px;text-align:right;top:537px;font-size:5.8px;color:#1a1a1a;font-weight:bold">₺128.687,20</div>
<div class="t" style="left:375.10px;width:300px;text-align:right;top:555px;font-size:5.8px;color:#1a1a1a;font-weight:bold">₺24.669,50</div>
<div class="t" style="left:375.10px;width:300px;text-align:right;top:567px;font-size:5.8px;color:#1a1a1a;font-weight:bold">₺16.915,00</div>
<div class="t" style="left:375.10px;width:300px;text-align:right;top:578px;font-size:5.8px;color:#1a1a1a;font-weight:bold">₺41.584,50</div>
<div class="t" style="left:375.10px;width:300px;text-align:right;top:597px;font-size:5.8px;color:#1a1a1a;font-weight:bold">₺35.707,40</div>
</div></div>
</body></html>
